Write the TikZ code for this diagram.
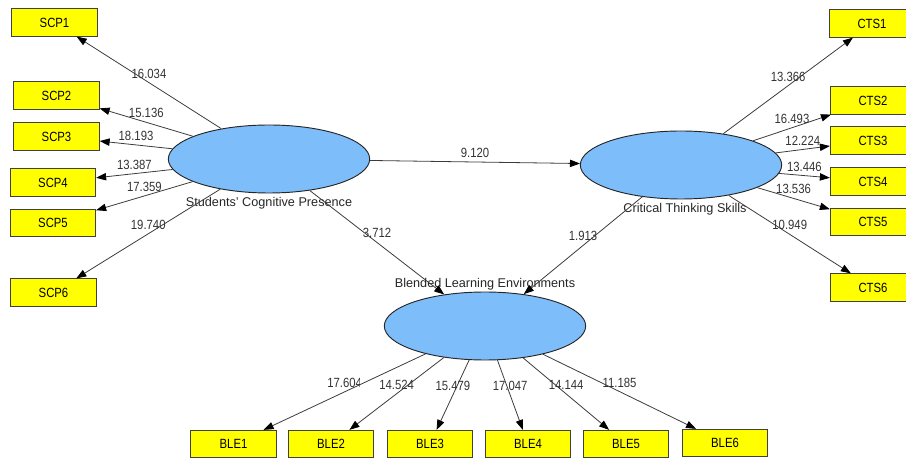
\documentclass[tikz,border=0pt]{standalone}
\usepackage{fontspec}
\setmainfont{Liberation Sans}
\newfontfamily\narrowsans{Liberation Sans}[FakeStretch=0.85]
\usepackage{xcolor}
\usepackage{tikz}
\usetikzlibrary{shapes.geometric, arrows.meta, positioning}
\definecolor{plsblue}{RGB}{125, 190, 250}
\definecolor{plsyellow}{RGB}{255, 255, 0}
\definecolor{plsgray}{RGB}{60, 60, 60}

\begin{document}
\begin{tikzpicture}[x=0.75pt, y=-0.75pt,
        latent/.style={ellipse, draw=black!85, fill=plsblue, line width=0.7pt, minimum width=151pt, minimum height=51pt, inner sep=0pt},
        indicator/.style={rectangle, draw=black!75, fill=plsyellow, line width=0.7pt, font=\narrowsans\fontsize{10}{12}\selectfont, minimum width=64pt, minimum height=20.5pt, inner sep=0pt},
        lvname/.style={font=\fontsize{9.5}{11}\selectfont, text=black!85, inner sep=0pt},
        link/.style={draw=plsgray, line width=0.6pt, -{Triangle[length=7.5pt, width=5.5pt, color=black]}},
        coef/.style={midway, above, font=\narrowsans\fontsize{10}{12}\selectfont, text=black!80, inner sep=3pt}
    ]
        \clip (0,0) rectangle (906,459);

        % Latent variables
        \node[latent] (scp) at (269,159) {};
        \node[latent] (cts) at (681,165) {};
        \node[latent] (ble) at (485,326) {};
        \node[lvname, below=3pt of scp] (scpname) {Students' Cognitive Presence};
        \node[lvname, below=3pt of cts, xshift=3pt] (ctsname) {Critical Thinking Skills};
        \node[lvname, above=0.5pt of ble] (blename) {Blended Learning Environments};

        % Indicators
        \foreach \i/\x/\y in {1/54.5/22.5, 2/56.5/95.5, 3/56.5/136.5, 4/53/182.5, 5/53/223, 6/53.5/292.5} {
            \node[indicator] (scp\i) at (\x,\y) {SCP\i};
        }
        \foreach \i/\x/\y in {1/872/23.5, 2/873/100.5, 3/873/140.5, 4/873/181.5, 5/873/222, 6/873/287.5} {
            \node[indicator] (cts\i) at (\x,\y) {CTS\i};
        }
        \foreach \i/\x/\y in {1/233.5/444, 2/331/444, 3/430/444, 4/528/444, 5/626/444, 6/725/443} {
            \node[indicator] (ble\i) at (\x,\y) {BLE\i};
        }

        % Inner model
        \draw[link] (scp) -- (cts) node[coef] {9.120};
        \draw[link] (scp) -- (ble) node[coef] {3.712};
        \draw[link] (cts) -- (ble) node[coef] {1.913};

        % Outer loadings
        \foreach \i/\v in {1/16.034, 2/15.136, 3/18.193, 4/13.387, 5/17.359, 6/19.740} {
            \draw[link] (scp) -- (scp\i) node[coef] {\v};
        }
        \foreach \i/\v in {1/13.366, 2/16.493, 3/12.224, 4/13.446, 5/13.536, 6/10.949} {
            \draw[link] (cts) -- (cts\i) node[coef] {\v};
        }
        \foreach \i/\v in {2/14.524, 3/15.479, 4/17.047, 5/14.144, 6/11.185} {
            \draw[link] (ble) -- (ble\i) node[coef] {\v};
        }
        \draw[link] (ble) -- (ble1);
        \begin{scope}
            \clip (300,365) rectangle (359.5,400);
            \path (ble) -- (ble1) node[coef] {17.604};
        \end{scope}
    \end{tikzpicture}
\end{document}
